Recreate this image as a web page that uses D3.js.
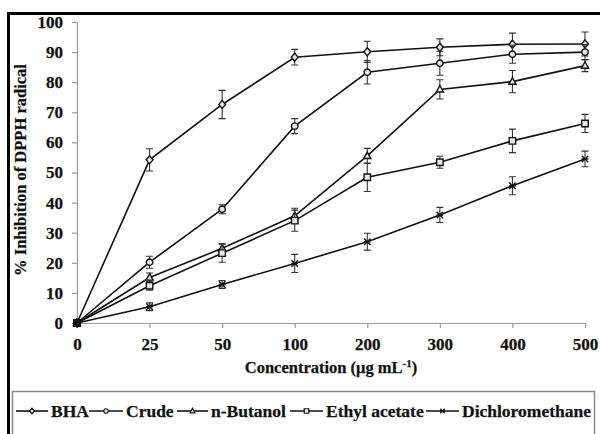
<!DOCTYPE html>
<html>
<head>
<meta charset="utf-8">
<script src="https://cdn.jsdelivr.net/npm/d3@7"></script>
<style>
  html, body { margin: 0; padding: 0; background: #fff; }
  svg { display: block; }
  text { font-family: "Liberation Serif", "Times New Roman", serif; font-weight: bold; fill: #111; stroke: #111; stroke-width: 0.25px; }
</style>
</head>
<body>
<svg id="chart" width="600" height="434"></svg>
<script>
// ---- data ----
const categories = ["0", "25", "50", "100", "200", "300", "400", "500"];
const yTicks = [0, 10, 20, 30, 40, 50, 60, 70, 80, 90, 100];
const seriesNames = ["BHA", "Crude", "n-Butanol", "Ethyl acetate", "Dichloromethane"];
const markerTypes = ["diamond", "circle", "triangle", "square", "asterisk"];

const bhaValues    = [0, 54.2, 72.6, 88.3, 90.1, 91.6, 92.6, 92.7];
const bhaErrors    = [0.5, 3.7, 4.7, 2.6, 3.5, 2.8, 3.7, 4.0];
const crudeValues  = [0, 20.2, 37.8, 65.4, 83.3, 86.3, 89.3, 90.0];
const crudeErrors  = [0.5, 2.0, 1.5, 2.5, 3.9, 4.0, 3.0, 2.5];
const butanolValues = [0, 15.1, 24.8, 35.6, 55.5, 77.6, 80.2, 85.5];
const butanolErrors = [0.5, 1.5, 1.5, 2.5, 2.5, 3.2, 3.7, 2.0];
const ethylValues  = [0, 12.4, 23.2, 34.0, 48.4, 53.4, 60.5, 66.3];
const ethylErrors  = [0.5, 1.5, 3.0, 3.5, 4.7, 2.0, 3.9, 3.0];
const dcmValues    = [0, 5.4, 12.8, 19.8, 27.0, 35.9, 45.6, 54.5];
const dcmErrors    = [0.5, 1.3, 1.3, 3.0, 2.8, 2.5, 3.0, 2.6];

const allValues = [bhaValues, crudeValues, butanolValues, ethylValues, dcmValues];
const allErrors = [bhaErrors, crudeErrors, butanolErrors, ethylErrors, dcmErrors];

// ---- chart ----
const svg = d3.select("#chart");
const x = d3.scalePoint().domain(categories).range([77, 585]);
const y = d3.scaleLinear().domain([0, 100]).range([323, 22]);

// outer frame
svg.append("rect").attr("x", 8.5).attr("y", 13.5).attr("width", 620).attr("height", 500)
  .attr("fill", "none").attr("stroke", "#000").attr("stroke-width", 3);

// axes
const yAxis = svg.append("g").attr("transform", "translate(77,0)")
  .call(d3.axisLeft(y).tickValues(yTicks).tickSize(5).tickPadding(9).tickSizeOuter(0));
const xAxis = svg.append("g").attr("transform", "translate(0,323)")
  .call(d3.axisBottom(x).tickSize(5).tickPadding(10).tickSizeOuter(0));
[yAxis, xAxis].forEach(g => {
  g.select(".domain").attr("stroke", "#9a9a9a").attr("stroke-width", 1.2);
  g.selectAll(".tick line").attr("stroke", "#9a9a9a").attr("stroke-width", 1.2);
  g.selectAll(".tick text").style("font-family", '"Liberation Serif", serif')
    .style("font-weight", "bold").style("font-size", "17px").attr("fill", "#111");
});

// axis titles
svg.append("text").attr("transform", "translate(26,170) rotate(-90)")
  .attr("text-anchor", "middle").style("font-size", "16.5px").text("% Inhibition of DPPH radical");
const xt = svg.append("text").attr("x", 331).attr("y", 373).attr("text-anchor", "middle").style("font-size", "16.5px");
xt.append("tspan").text("Concentration (μg mL");
xt.append("tspan").attr("dy", -6).style("font-size", "11px").text("-1");
xt.append("tspan").attr("dy", 6).text(")");

// marker path
function markerPath(type, s) {
  const h = s / 2;
  switch (type) {
    case "diamond": return `M0,${-h*1.25}L${h*1.05},0L0,${h*1.25}L${-h*1.05},0Z`;
    case "circle": return `M${h},0A${h},${h} 0 1,1 ${-h},0A${h},${h} 0 1,1 ${h},0Z`;
    case "triangle": return `M0,${-h*1.2}L${h*1.1},${h*0.8}L${-h*1.1},${h*0.8}Z`;
    case "square": return `M${-h},${-h}H${h}V${h}H${-h}Z`;
    case "asterisk": return `M${-h},${-h}L${h},${h}M${-h},${h}L${h},${-h}M${-h},0H${h}`;
  }
}

const line = d3.line().x((d, i) => x(categories[i])).y(d => y(d));

allValues.forEach((vals, si) => {
  const g = svg.append("g");
  g.append("path").attr("d", line(vals)).attr("fill", "none")
    .attr("stroke", "#111").attr("stroke-width", 1.6);
  vals.forEach((v, i) => {
    const e = allErrors[si][i];
    if (i === 0) return;
    const cx = x(categories[i]);
    g.append("path")
      .attr("d", `M${cx},${y(v + e)}V${y(v - e)}M${cx - 3.5},${y(v + e)}H${cx + 3.5}M${cx - 3.5},${y(v - e)}H${cx + 3.5}`)
      .attr("stroke", "#333").attr("stroke-width", 1.1).attr("fill", "none");
  });
  vals.forEach((v, i) => {
    g.append("path").attr("transform", `translate(${x(categories[i])},${y(v)})`)
      .attr("d", markerPath(markerTypes[si], 6.5))
      .attr("fill", i === 0 ? "#222" : "#e6e6e6").attr("stroke", "#111").attr("stroke-width", 1.4);
  });
});

// legend
svg.append("rect").attr("x", 12.5).attr("y", 391.5).attr("width", 582).attr("height", 80)
  .attr("fill", "none").attr("stroke", "#8a8a8a").attr("stroke-width", 1.5);
const legendLineX = [16, 89, 177, 290, 426];
const legendTextX = [51, 126, 211, 326, 462];
seriesNames.forEach((name, si) => {
  const g = svg.append("g");
  const x0 = legendLineX[si], x1 = legendTextX[si] - 3;
  g.append("line").attr("x1", x0).attr("x2", x1).attr("y1", 411).attr("y2", 411)
    .attr("stroke", "#111").attr("stroke-width", 1.6);
  g.append("path").attr("transform", `translate(${(x0 + x1) / 2},411)`)
    .attr("d", markerPath(markerTypes[si], 4.5))
    .attr("fill", "#e6e6e6").attr("stroke", "#111").attr("stroke-width", 1.2);
  g.append("text").attr("x", legendTextX[si]).attr("y", 417).style("font-size", "17.5px").text(name);
});
</script>
</body>
</html>
